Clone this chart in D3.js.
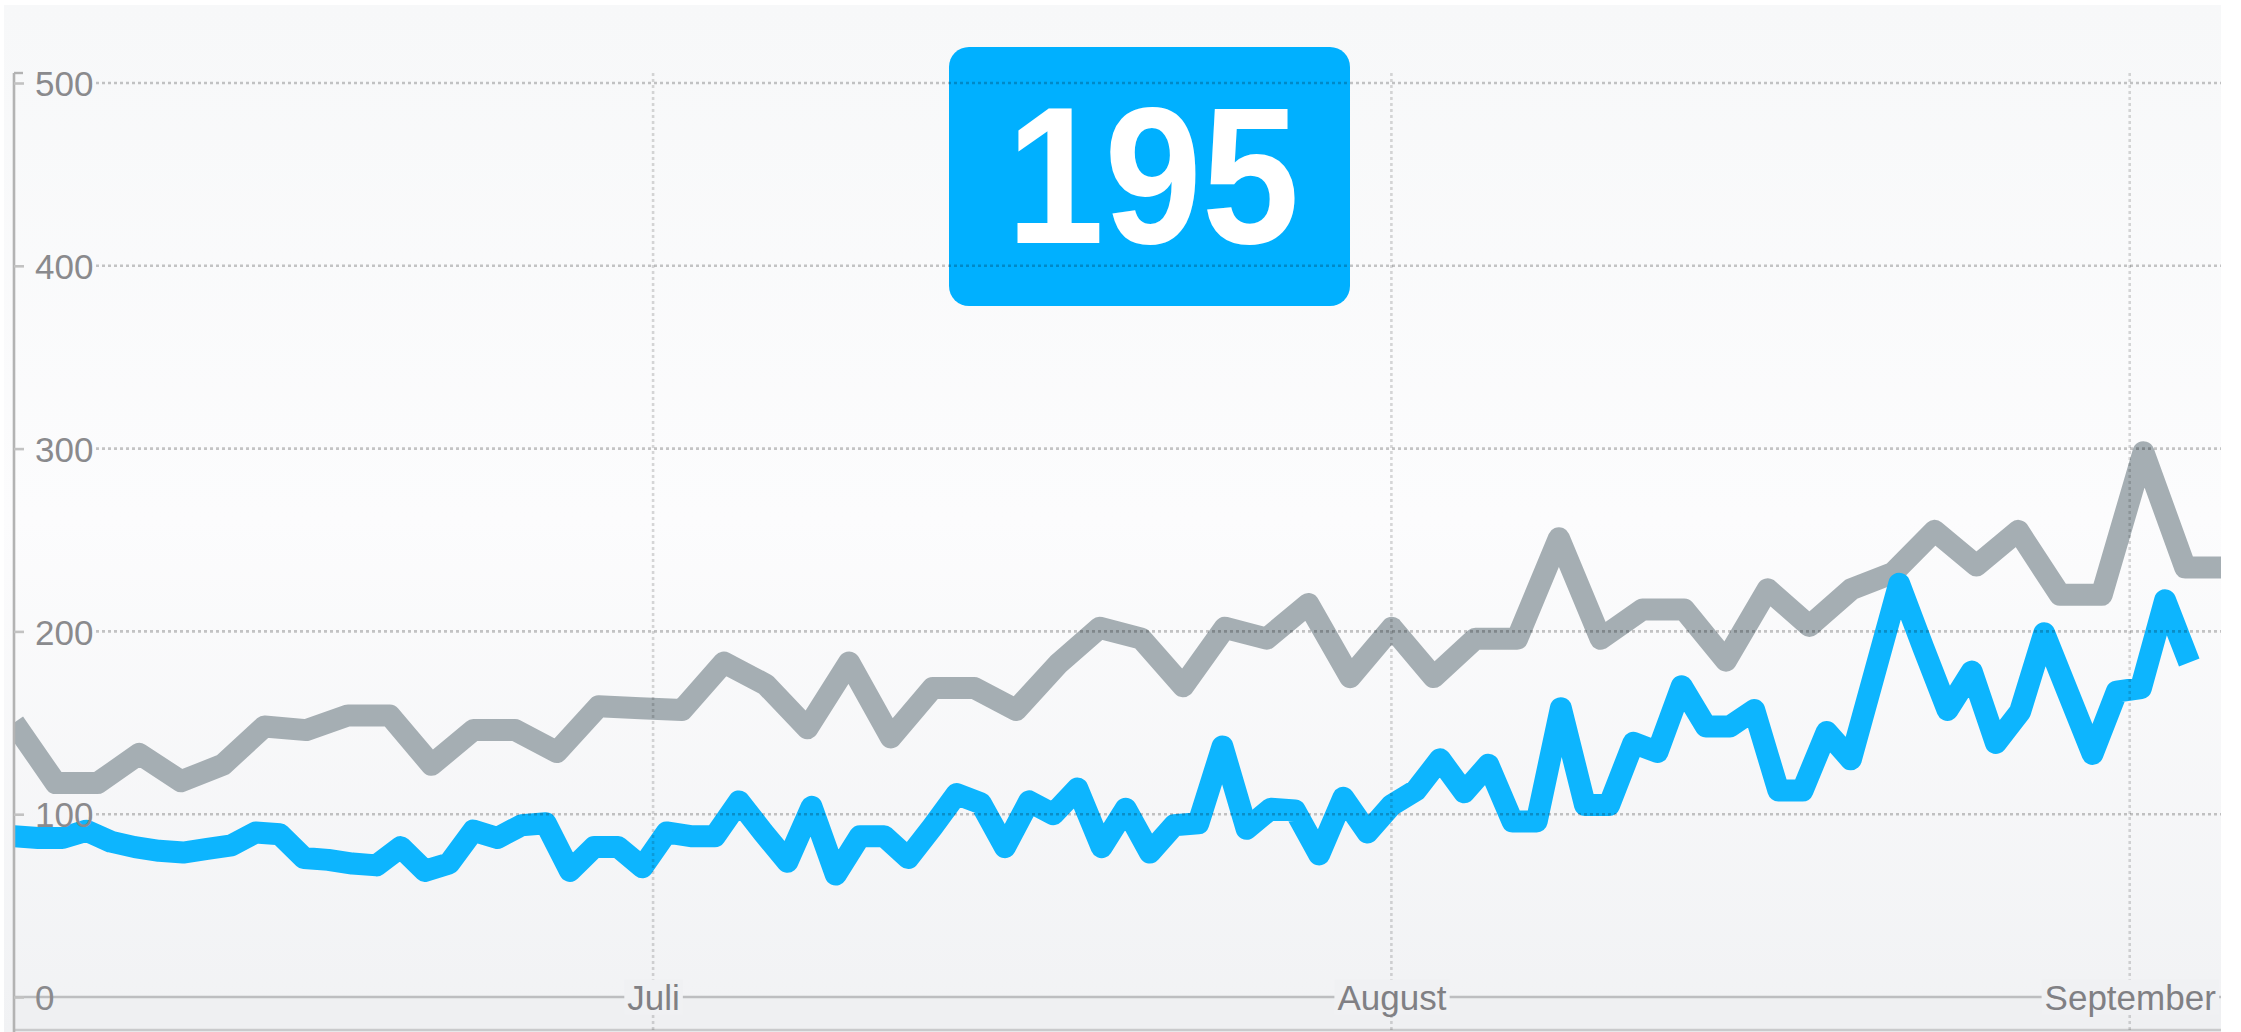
<!DOCTYPE html>
<html>
<head>
<meta charset="utf-8">
<script src="https://cdn.jsdelivr.net/npm/d3@7"></script>
<style>
  html, body { margin: 0; padding: 0; background: #ffffff; }
  svg { display: block; }
</style>
</head>
<body>
<svg id="chart" width="2241" height="1032"></svg>
<script>
// values
var headline = "195";
var monthLabels = ["Juli", "August", "September"];
var monthStarts = ["2013-07-01", "2013-08-01", "2013-09-01"];
var yTicks = [0, 100, 200, 300, 400, 500];

// blue series, one value per day
var visits = [
  88, 87, 87, 91, 85, 82, 80, 79, 81, 83,
  90, 89, 76, 75, 73, 72, 82, 69, 73, 91,
  87, 94, 95, 69, 82, 82, 71, 90, 88, 88,
  107, 90, 74, 104, 67, 88, 88, 76, 93, 111,
  106, 82, 107, 100, 114, 82, 103, 79, 94, 95,
  137, 92, 103, 102, 78, 109, 90, 105, 113, 130,
  112, 127, 96, 96, 158, 105, 105, 139, 134, 170,
  148, 148, 157, 113, 113, 145, 130, 178, 226, 191,
  157, 178, 139, 156, 199, 166, 133, 167, 169, 217,
  183
];

// grey comparison series
var previous = [
  150, 117, 117, 133, 118, 127, 148, 146, 154, 154,
  127, 146, 146, 134, 159, 158, 157, 183, 171, 147,
  183, 142, 169, 169, 157, 182, 202, 196, 170, 202,
  196, 215, 175, 202, 175, 196, 196, 251, 196, 212,
  212, 184, 223, 203, 223, 232, 255, 236, 255, 220,
  220, 298, 235, 235
];

// time span of the plot and of each series
var domainStart = Date.UTC(2013, 5, 4, 4);
var domainEnd = Date.UTC(2013, 8, 4, 20);
var visitsEnd = Date.UTC(2013, 8, 3, 12);
var previousEnd = Date.UTC(2013, 8, 5, 2);

var svg = d3.select("#chart");
var width = +svg.attr("width");
var height = +svg.attr("height");

var plotLeft = 14;
var plotRight = 2221;
var plotTop = 73;
var zeroY = 997;
var topY = 83;
var bandBottom = 1030;

var x = d3.scaleUtc()
  .domain([domainStart, domainEnd])
  .range([plotLeft, plotRight]);

var y = d3.scaleLinear()
  .domain([0, 500])
  .range([zeroY, topY]);

var visitsX = d3.scaleLinear()
  .domain([0, visits.length - 1])
  .range([x(domainStart), x(visitsEnd)]);

var previousX = d3.scaleLinear()
  .domain([0, previous.length - 1])
  .range([x(domainStart), x(previousEnd)]);

var defs = svg.append("defs");

var grad = defs.append("linearGradient")
  .attr("id", "bg")
  .attr("x1", 0).attr("y1", 0).attr("x2", 0).attr("y2", 1);
grad.append("stop").attr("offset", "0").attr("stop-color", "#f7f8f9");
grad.append("stop").attr("offset", "0.5").attr("stop-color", "#fcfcfd");
grad.append("stop").attr("offset", "1").attr("stop-color", "#f1f2f4");

defs.append("clipPath").attr("id", "plotclip")
  .append("rect")
  .attr("x", plotLeft)
  .attr("y", 0)
  .attr("width", plotRight - plotLeft)
  .attr("height", height);

// background
svg.append("rect")
  .attr("x", 4)
  .attr("y", 5)
  .attr("width", plotRight - 4)
  .attr("height", height - 5)
  .style("fill", "url(#bg)");

// band under the zero line
svg.append("rect")
  .attr("x", plotLeft)
  .attr("y", zeroY)
  .attr("width", plotRight - plotLeft)
  .attr("height", bandBottom - zeroY)
  .style("fill", "#eff0f2");

svg.append("line")
  .attr("x1", plotLeft).attr("x2", plotRight)
  .attr("y1", bandBottom).attr("y2", bandBottom)
  .style("stroke", "#c9cacc")
  .style("stroke-width", 2.5);

// headline box
svg.append("rect")
  .attr("x", 949)
  .attr("y", 47)
  .attr("width", 401)
  .attr("height", 259)
  .attr("rx", 20)
  .style("fill", "#00b0ff");

svg.append("g")
  .attr("transform", "translate(1153,243) scale(0.9,1)")
  .append("text")
  .attr("x", 0)
  .attr("y", 0)
  .attr("text-anchor", "middle")
  .style("font-family", "'Liberation Sans', Arial, sans-serif")
  .style("font-weight", "bold")
  .style("font-size", "195px")
  .style("fill", "#ffffff")
  .text(headline);

// data lines
var plot = svg.append("g").attr("clip-path", "url(#plotclip)");

var previousLine = d3.line()
  .x(function (d, i) { return previousX(i); })
  .y(function (d) { return y(d); });

var visitsLine = d3.line()
  .x(function (d, i) { return visitsX(i); })
  .y(function (d) { return y(d); });

plot.append("path")
  .datum(previous)
  .attr("d", previousLine)
  .style("fill", "none")
  .style("stroke", "#a5aeb3")
  .style("stroke-width", 22)
  .style("stroke-linejoin", "round")
  .style("stroke-linecap", "butt");

plot.append("path")
  .datum(visits)
  .attr("d", visitsLine)
  .style("fill", "none")
  .style("stroke", "#0db5fe")
  .style("stroke-width", 22)
  .style("stroke-linejoin", "round")
  .style("stroke-linecap", "butt");

// dotted grid, drawn over everything
var monthDates = monthStarts.map(function (s) { return new Date(s + "T00:00:00Z"); });

svg.append("g").selectAll("line")
  .data(yTicks.filter(function (t) { return t > 0; }))
  .enter().append("line")
  .attr("x1", 96).attr("x2", plotRight)
  .attr("y1", function (d) { return y(d); })
  .attr("y2", function (d) { return y(d); })
  .style("stroke", "rgba(0,0,0,0.22)")
  .style("stroke-width", 2.6)
  .style("stroke-dasharray", "3,3");

svg.append("g").selectAll("line")
  .data(monthDates)
  .enter().append("line")
  .attr("x1", function (d) { return x(d); })
  .attr("x2", function (d) { return x(d); })
  .attr("y1", plotTop).attr("y2", height)
  .style("stroke", "rgba(0,0,0,0.15)")
  .style("stroke-width", 2.6)
  .style("stroke-dasharray", "3,3");

// zero line and y axis line
svg.append("line")
  .attr("x1", plotLeft).attr("x2", plotRight)
  .attr("y1", zeroY).attr("y2", zeroY)
  .style("stroke", "#bdbec0")
  .style("stroke-width", 2.6);

svg.append("line")
  .attr("x1", plotLeft).attr("x2", plotLeft)
  .attr("y1", plotTop).attr("y2", height)
  .style("stroke", "#b3b3b3")
  .style("stroke-width", 2.6);

svg.append("line")
  .attr("x1", plotLeft).attr("x2", plotLeft + 9)
  .attr("y1", plotTop).attr("y2", plotTop)
  .style("stroke", "#b3b3b3")
  .style("stroke-width", 2.4);

// y axis labels
var leftAxis = d3.axisRight(y)
  .tickValues(yTicks)
  .tickSize(10)
  .tickPadding(11);

var yAxisG = svg.append("g")
  .attr("class", "yaxis")
  .attr("transform", "translate(" + plotLeft + ",0)")
  .call(leftAxis);

yAxisG.select(".domain").remove();
yAxisG.selectAll(".tick line")
  .style("stroke", "#c2c2c2")
  .style("stroke-width", 2.6);
yAxisG.selectAll(".tick text")
  .attr("dy", "0.36em")
  .style("font-family", "'Liberation Sans', Arial, sans-serif")
  .style("font-size", "35px")
  .style("fill", "#8a8a8d");

// x axis labels, sitting on the zero line
var bottomAxis = d3.axisBottom(x)
  .tickValues(monthDates)
  .tickFormat(function (d, i) { return monthLabels[i]; })
  .tickSize(0)
  .tickPadding(0);

var xAxisG = svg.append("g")
  .attr("class", "xaxis")
  .attr("transform", "translate(0," + zeroY + ")")
  .call(bottomAxis);

xAxisG.select(".domain").remove();
xAxisG.selectAll(".tick text")
  .attr("y", 0)
  .attr("dy", "0.36em")
  .style("font-family", "'Liberation Sans', Arial, sans-serif")
  .style("font-size", "35px")
  .style("fill", "#808084");

xAxisG.selectAll(".tick").each(function () {
  var t = d3.select(this);
  var box = t.select("text").node().getBBox();
  t.insert("rect", "text")
    .attr("x", box.x - 3)
    .attr("y", box.y + 2)
    .attr("width", box.width + 6)
    .attr("height", box.height - 4)
    .style("fill", "#f0f1f3");
});
</script>
</body>
</html>
